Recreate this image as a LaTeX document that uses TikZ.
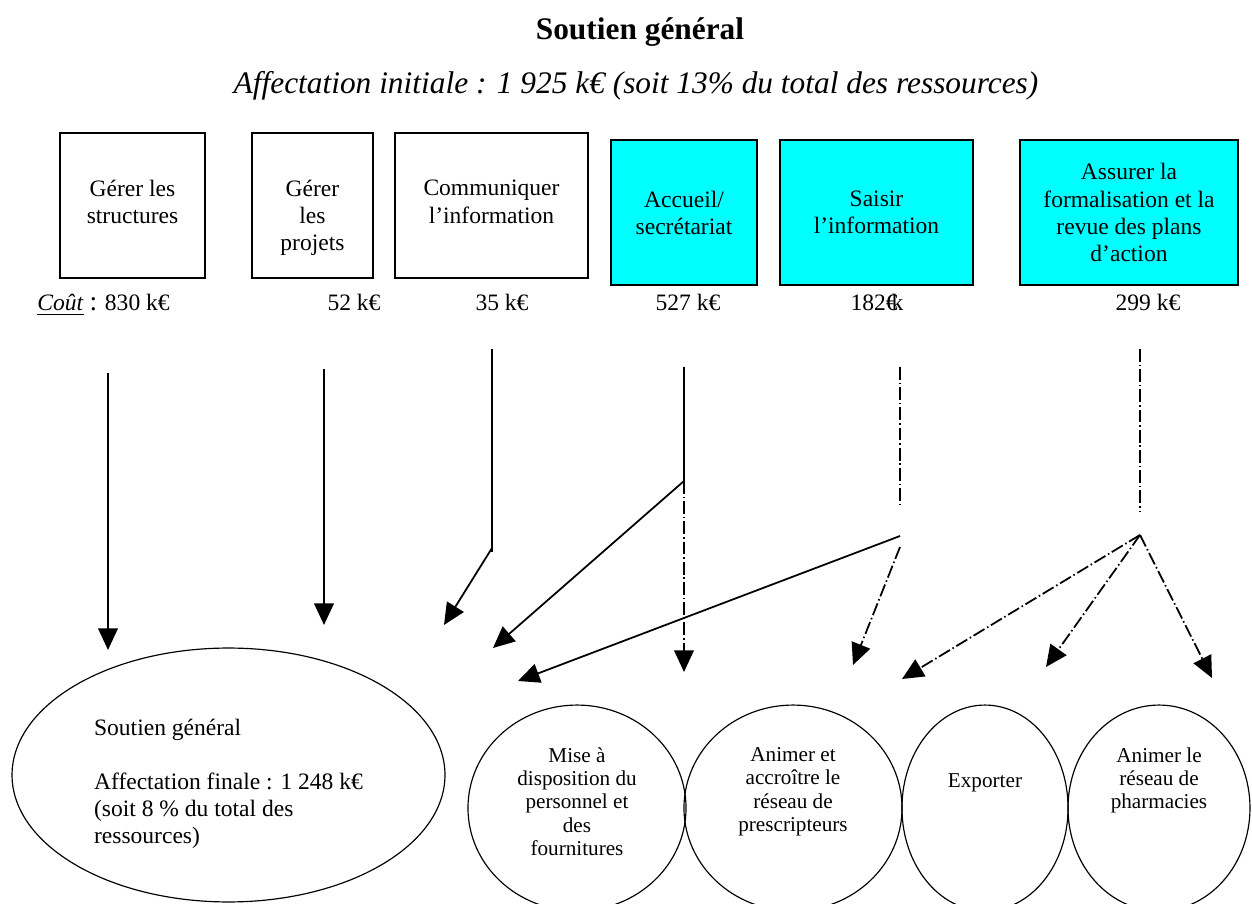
\documentclass[tikz,border=0pt]{standalone}
\usepackage{fontspec}
\setmainfont{Liberation Serif}
\usetikzlibrary{arrows.meta,shapes.geometric}
\definecolor{boxcyan}{RGB}{0,255,255}
\begin{document}
\begin{tikzpicture}[x=0.51pt,y=-0.51pt,
  wbox/.style={draw=black,line width=0.8pt,minimum height=73.95pt,inner sep=0pt},
  cbox/.style={wbox,fill=boxcyan,align=center,font=\fontsize{12}{13.8}\selectfont},
  btext/.style={align=center,font=\fontsize{12}{13.8}\selectfont,inner sep=0pt},
  cost/.style={font=\fontsize{12}{13.8}\selectfont,inner sep=0pt,anchor=base},
  oval/.style={draw=black,line width=0.6pt,ellipse,inner sep=0pt,minimum height=105pt},
  etext/.style={align=center,font=\fontsize{10.8}{11.9}\selectfont,inner sep=0pt},
  flow/.style={line width=0.9pt,-{Triangle[length=11pt,width=10pt]}},
  plain/.style={line width=0.9pt},
  dd/.style={line width=0.9pt,dash pattern=on 6.5pt off 1.5pt on 0.8pt off 1.5pt},
]
\useasboundingbox (0,0) rectangle (1252,904);
\clip (0,0) rectangle (1252,904);

% headings
\node[font=\bfseries\fontsize{16}{19}\selectfont,anchor=base,inner sep=0pt] (title) at (640,40) {Soutien général};
\node[font=\itshape\fontsize{16}{19}\selectfont,anchor=base,inner sep=0pt] (sub) at (636,94)
  {Affectation initiale : 1 925 k€ (soit 13\% du total des ressources)};

% activity boxes
\node[wbox,minimum width=73.95pt] (b1) at (132.5,205.5) {};
\node[wbox,minimum width=61.7pt] (b2) at (312.5,205.5) {};
\node[wbox,minimum width=98.4pt] (b3) at (491.5,205.5) {};
\node[btext,anchor=north] (t1) at (132.5,180) {Gérer les\\structures};
\node[btext,anchor=north] (t2) at (312.5,180) {Gérer\\les\\projets};
\node[btext,anchor=north] (t3) at (491.5,180) {Communiquer\\l’information};
\node[cbox,minimum width=74.5pt] (b4) at (684,212.5) {Accueil/\\secrétariat};
\node[cbox,minimum width=98.4pt] (b5) at (876.5,212.5) {Saisir\\l’information};
\node[cbox,minimum width=111.2pt] (b6) at (1129,212.5) {Assurer la\\formalisation et la\\revue des plans\\d’action};

% costs
\node[cost,anchor=base west] (k1) at (37,311) {\underline{\textit{Coût}} {\fontsize{14}{14}\selectfont:} 830 k€};
\node[cost] (k2) at (354,311) {52 k€};
\node[cost] (k3) at (502,311) {35 k€};
\node[cost] (k4) at (688,311) {527 k€};
\node[cost] (k5) at (877,311) {182€\kern-0.25em k};
\node[cost] (k6) at (1148,311) {299 k€};

% final cost objects
\node[oval,minimum width=220.8pt,minimum height=129.5pt] (g) at (228.5,775) {};
\node[align=left,inner sep=0pt,font=\fontsize{12}{13.8}\selectfont] (gt) at (228.5,784)
  {Soutien général\\[13.8pt]Affectation finale : 1 248 k€\\(soit 8 \% du total des\\ressources)};
\node[oval,minimum width=111.2pt] (e1) at (577,808) {};
\node[oval,minimum width=111.2pt] (e2) at (793,808) {};
\node[oval,minimum width=84.7pt] (e3) at (985,808) {};
\node[oval,minimum width=92.8pt] (e4) at (1159,808) {};
\node[etext,anchor=north] (e1t) at (577,747) {Mise à\\disposition du\\personnel et\\des\\fournitures};
\node[etext,anchor=north] (e2t) at (793,747) {Animer et\\accroître le\\réseau de\\prescripteurs};
\node[etext] (e3t) at (985,783) {Exporter};
\node[etext,anchor=north] (e4t) at (1159,747) {Animer le\\réseau de\\pharmacies};

% connector end points
\coordinate (s1) at (108,373);  \coordinate (p1) at (108,650);
\coordinate (s2) at (324,369);  \coordinate (p2) at (324,625);
\coordinate (s3) at (492,349);  \coordinate (j3) at (492,552);
\coordinate (q3) at (492,548);  \coordinate (p3) at (444,625);
\coordinate (s4) at (684,367);  \coordinate (j4) at (684,481);
\coordinate (p4a) at (493,648); \coordinate (p4b) at (684,672);
\coordinate (s5) at (900,367);  \coordinate (j5) at (900,508);
\coordinate (m5) at (900,536);  \coordinate (n5) at (900,547);
\coordinate (p5a) at (518,681); \coordinate (p5b) at (853,665);
\coordinate (s6) at (1140,349); \coordinate (j6) at (1140,512);
\coordinate (m6) at (1140,535);
\coordinate (p6a) at (902,679); \coordinate (p6b) at (1046,667); \coordinate (p6c) at (1212,678);

% allocation flows
\draw[flow] (s1) -- (p1);
\draw[flow] (s2) -- (p2);
\draw[plain] (s3) -- (j3);
\draw[flow] (q3) -- (p3);
\draw[plain] (s4) -- (j4);
\draw[flow] (j4) -- (p4a);
\draw[flow,dd] (j4) -- (p4b);
\draw[dd] (s5) -- (j5);
\draw[flow] (m5) -- (p5a);
\draw[flow,dd] (n5) -- (p5b);
\draw[dd] (s6) -- (j6);
\draw[flow,dd] (m6) -- (p6a);
\draw[flow,dd] (m6) -- (p6b);
\draw[flow,dd] (m6) -- (p6c);
\end{tikzpicture}
\end{document}
